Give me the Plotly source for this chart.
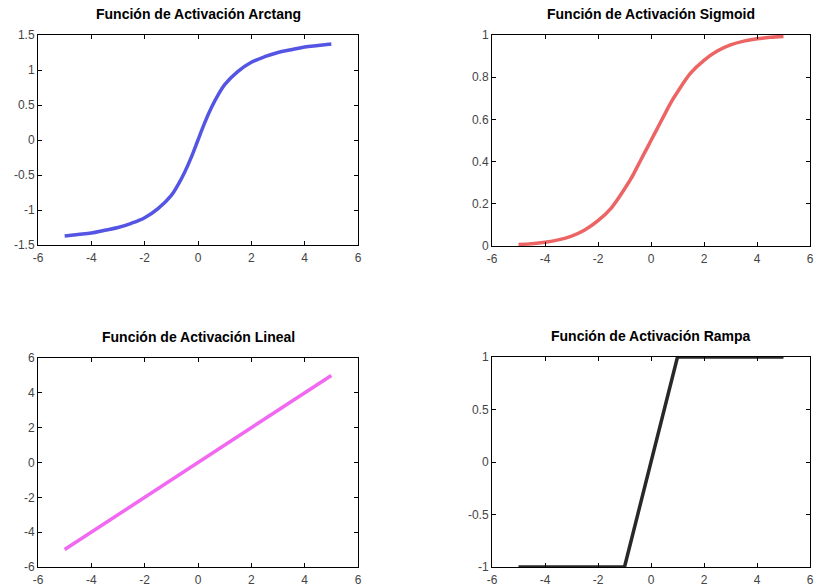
import plotly.graph_objects as go

# ---- data ----
x_arctan = [-5, -4.5, -4, -3.5, -3, -2.5, -2, -1.5, -1, -0.75, -0.5, -0.25, 0,
            0.25, 0.5, 0.75, 1, 1.5, 2, 2.5, 3, 3.5, 4, 4.5, 5]
y_arctan = [-1.37, -1.35, -1.33, -1.29, -1.25, -1.19, -1.11, -0.98, -0.79, -0.64, -0.46, -0.245, 0.0,
            0.245, 0.46, 0.64, 0.79, 0.98, 1.11, 1.19, 1.25, 1.29, 1.33, 1.35, 1.37]

x_sigmoid = [-5, -4.5, -4, -3.5, -3, -2.5, -2, -1.5, -1, -0.75, -0.5, -0.25, 0,
             0.25, 0.5, 0.75, 1, 1.5, 2, 2.5, 3, 3.5, 4, 4.5, 5]
y_sigmoid = [0.007, 0.011, 0.018, 0.029, 0.047, 0.076, 0.12, 0.18, 0.27, 0.32, 0.38, 0.44, 0.5,
             0.56, 0.62, 0.68, 0.73, 0.82, 0.88, 0.924, 0.953, 0.971, 0.982, 0.989, 0.993]

x_lineal = [-5, 5]
y_lineal = [-5, 5]

x_rampa = [-5, -1, 1, 5]
y_rampa = [-1, -1, 1, 1]

titles = ["Función de Activación Arctang", "Función de Activación Sigmoid",
          "Función de Activación Lineal", "Función de Activación Rampa"]

x_ticks = [-6, -4, -2, 0, 2, 4, 6]
x_ticktext = ["-6", "-4", "-2", "0", "2", "4", "6"]
y1_ticks = [-1.5, -1, -0.5, 0, 0.5, 1, 1.5]
y1_text = ["-1.5", "-1", "-0.5", "0", "0.5", "1", "1.5"]
y2_ticks = [0, 0.2, 0.4, 0.6, 0.8, 1]
y2_text = ["0", "0.2", "0.4", "0.6", "0.8", "1"]
y3_ticks = [-6, -4, -2, 0, 2, 4, 6]
y3_text = ["-6", "-4", "-2", "0", "2", "4", "6"]
y4_ticks = [-1, -0.5, 0, 0.5, 1]
y4_text = ["-1", "-0.5", "0", "0.5", "1"]

W, H = 818, 588
# plot rectangles in pixels (left, right, top, bottom)
rects = [(38, 358, 35, 245), (492, 810, 35, 246), (38, 358, 358, 567), (492, 810, 357, 567)]

fig = go.Figure()
series = [
    (x_arctan, y_arctan, "rgb(85,85,228)", "spline"),
    (x_sigmoid, y_sigmoid, "rgb(236,100,100)", "spline"),
    (x_lineal, y_lineal, "rgb(240,105,240)", "linear"),
    (x_rampa, y_rampa, "rgb(40,40,40)", "linear"),
]
yinfo = [(y1_ticks, y1_text, [-1.5, 1.5]), (y2_ticks, y2_text, [0, 1]),
         (y3_ticks, y3_text, [-6, 6]), (y4_ticks, y4_text, [-1, 1])]

font_family = "Liberation Sans, Arial, sans-serif"
annotations = []
for i, ((xs, ys, col, shape), (yt, ytx, yr), (l, r, t, b), title) in enumerate(zip(series, yinfo, rects, titles)):
    n = "" if i == 0 else str(i + 1)
    fig.add_trace(go.Scatter(x=xs, y=ys, mode="lines",
                             line=dict(color=col, width=3.5, shape=shape),
                             xaxis="x" + n, yaxis="y" + n, showlegend=False))
    axcommon = dict(showgrid=False, zeroline=False, showline=True, linecolor="black", linewidth=1,
                    mirror="ticks", ticks="inside", ticklen=4, tickcolor="black", automargin=False,
                    tickfont=dict(size=12, color="#444", family=font_family))
    fig.update_layout(**{
        "xaxis" + n: dict(domain=[l / W, r / W], range=[-6, 6], tickvals=x_ticks, ticktext=x_ticktext,
                          anchor="y" + n, ticklabelstandoff=2, **axcommon),
        "yaxis" + n: dict(domain=[1 - b / H, 1 - t / H], range=yr, tickvals=yt, ticktext=ytx,
                          anchor="x" + n, **axcommon),
    })
    annotations.append(dict(text="<b>" + title + "</b>", x=(l + r) / 2 / W, y=1 - (t - 21) / H,
                            xref="paper", yref="paper", showarrow=False, xanchor="center", yanchor="middle",
                            font=dict(size=14, color="black", family=font_family)))

fig.update_layout(width=W, height=H, margin=dict(l=0, r=0, t=0, b=0),
                  paper_bgcolor="white", plot_bgcolor="white", annotations=annotations)
fig.write_html("out.html", config={"displayModeBar": False},
               post_script="document.body.style.margin='0';document.body.style.overflow='hidden';")
